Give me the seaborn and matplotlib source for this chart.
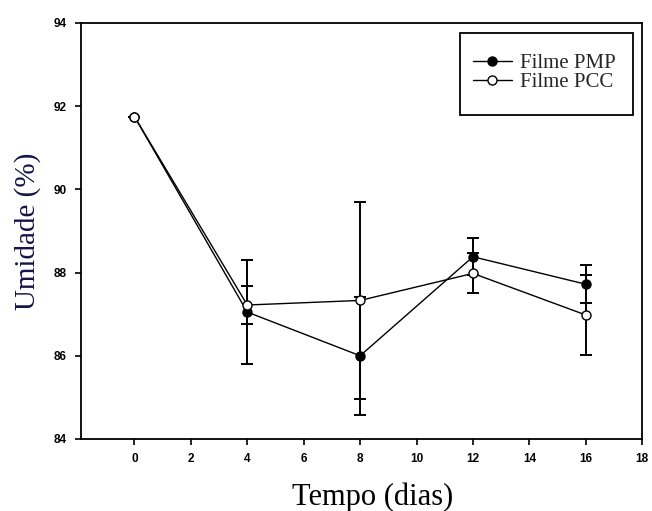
import matplotlib
matplotlib.use("Agg")
import matplotlib.pyplot as plt
import seaborn as sns
import pandas as pd
from matplotlib.lines import Line2D
from matplotlib.patches import Rectangle

dias = [0, 4, 8, 12, 16]
pmp = [91.75, 87.05, 86.0, 88.38, 87.72]
pmp_err = [0.0, 1.25, 1.42, 0.45, 0.45]
pcc = [91.75, 87.22, 87.33, 87.98, 86.98]
pcc_err = [0.0, 0.46, 2.37, 0.48, 0.96]
series = ["Filme PMP", "Filme PCC"]
xticks = list(range(0, 19, 2))
yticks = [84, 86, 88, 90, 92, 94]

sns.set_theme(style="ticks")
plt.rcParams['font.family'] = ['Liberation Serif', 'DejaVu Serif']

df = pd.DataFrame({
    "Tempo": dias + dias,
    "Umidade": pmp + pcc,
    "Filme": [series[0]] * len(dias) + [series[1]] * len(dias),
})

fig = plt.figure(figsize=(6.52, 5.11), dpi=100)
ax = fig.add_axes([0.124, 0.141, 0.861, 0.814])

sns.lineplot(data=df, x="Tempo", y="Umidade", hue="Filme", style="Filme",
             palette={series[0]: "black", series[1]: "black"},
             markers={series[0]: "o", series[1]: "o"},
             dashes=False, linewidth=1.0, markersize=6.5, ax=ax, legend=False, zorder=3)
lines = list(ax.get_lines())
for ln in lines:
    ln.set_markeredgecolor('black')
    ln.set_markeredgewidth(1.0)
lines[0].set_markerfacecolor('black')
lines[1].set_markerfacecolor('white')
lines[1].set_zorder(4)

ax.errorbar(dias, pmp, yerr=pmp_err, fmt='none', ecolor='black', elinewidth=1.4,
            capsize=4, capthick=1.4, zorder=2)
ax.errorbar(dias, pcc, yerr=pcc_err, fmt='none', ecolor='black', elinewidth=1.4,
            capsize=4, capthick=1.4, zorder=2)

ax.set_xlim(-1.9, 18)
ax.set_ylim(84, 94)
ax.set_xticks(xticks)
ax.set_yticks(yticks)
ax.tick_params(direction='out', length=4, width=1.2, colors='black', labelsize=8.5, pad=6)
for lab in ax.get_xticklabels() + ax.get_yticklabels():
    lab.set_fontfamily('Liberation Sans')
    lab.set_fontweight('bold')
for sp in ax.spines.values():
    sp.set_linewidth(1.3)
    sp.set_color('black')

ax.set_xlabel("Tempo (dias)", fontsize=22, color='black', labelpad=13)
ax.xaxis.set_label_coords(0.52, -0.105)
ax.set_ylabel("Umidade (%)", fontsize=21, color='#14144a', labelpad=9)

# legend box
ax.add_patch(Rectangle((0.676, 0.779), 0.308, 0.197, transform=ax.transAxes,
                       fill=False, edgecolor='black', linewidth=1.3, zorder=5))
handles = [
    Line2D([], [], color='black', lw=1.0, marker='o', markersize=6.5,
           markerfacecolor='black', markeredgecolor='black'),
    Line2D([], [], color='black', lw=1.0, marker='o', markersize=6.5,
           markerfacecolor='white', markeredgecolor='black'),
]
leg = ax.legend(handles, series, loc='center', bbox_to_anchor=(0.826, 0.88),
                fontsize=15, frameon=False, borderpad=0.0, handlelength=1.85,
                handletextpad=0.4, labelspacing=0.0, numpoints=1)

fig.savefig("out.png", dpi=100, facecolor='white')
